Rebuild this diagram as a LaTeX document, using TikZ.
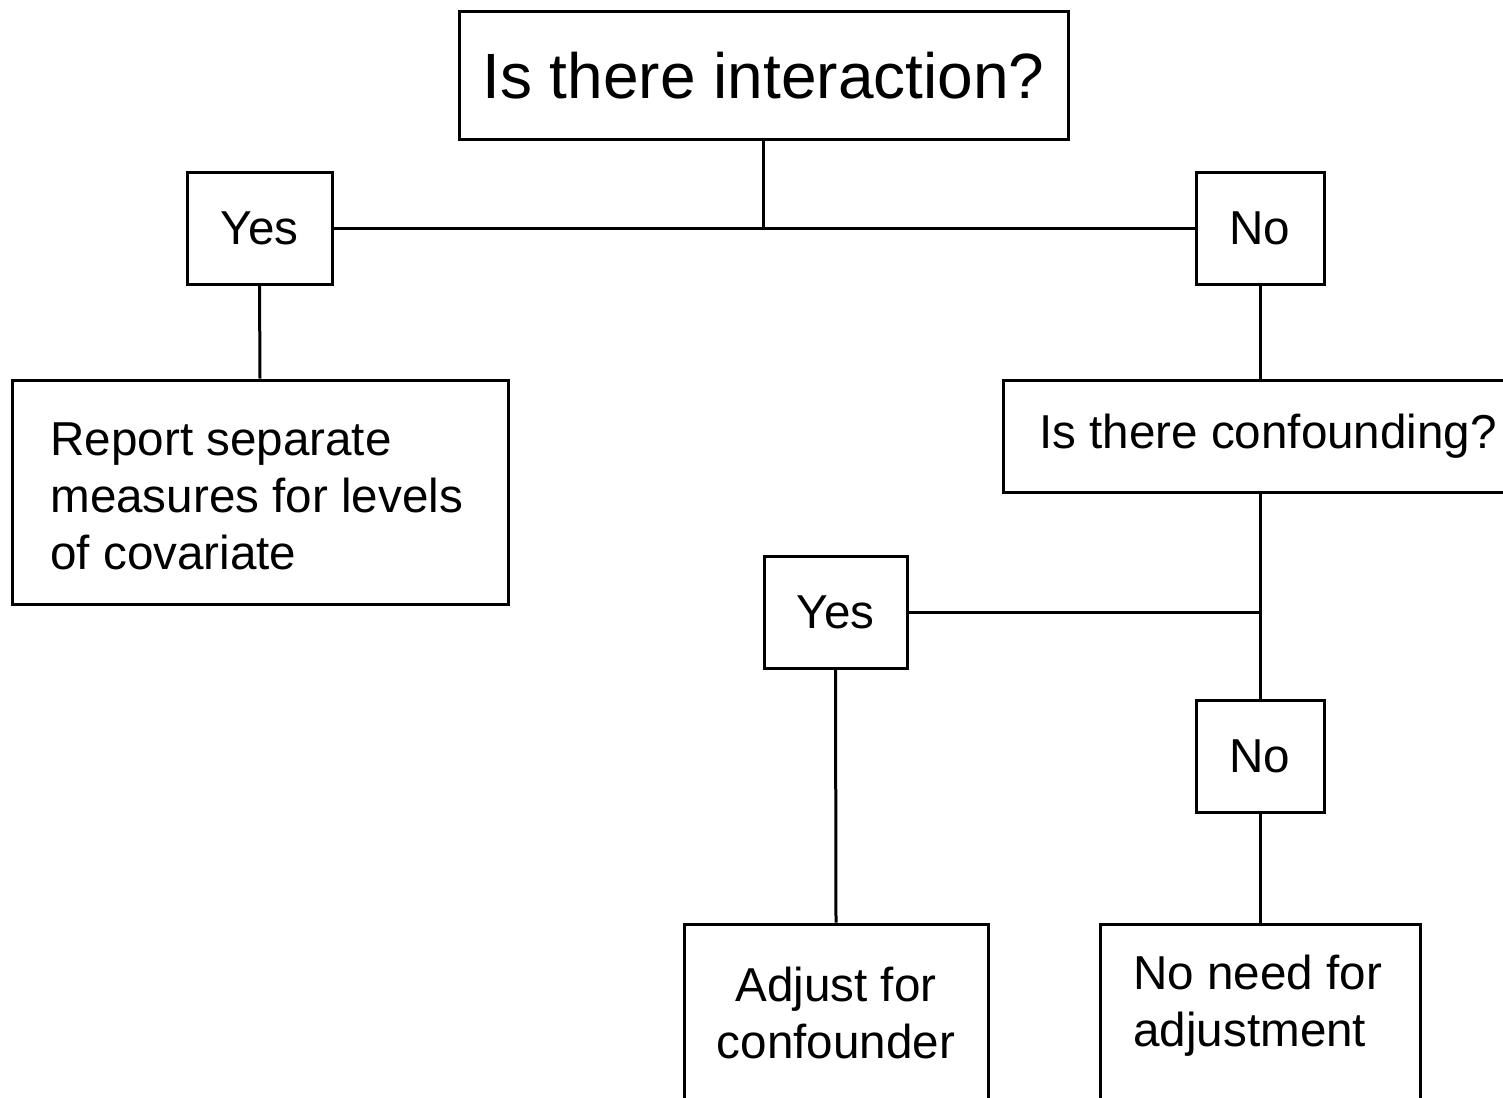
\documentclass[tikz,border=0pt]{standalone}
\usepackage{fontspec}
\setmainfont{Liberation Sans}
\begin{document}
\begin{tikzpicture}[x=0.5pt,y=-0.5pt,
  box/.style={draw, line width=1.5pt, inner sep=0pt, rectangle},
  body/.style={font=\fontsize{23.8}{28.5}\selectfont, inner sep=0pt},
  link/.style={line width=1.5pt}]
\clip (0,0) rectangle (1503,1097);
\fill[white] (0,0) rectangle (1503,1097);

% decision boxes
\node[box, minimum width=304.5pt, minimum height=63.5pt,
      font=\fontsize{32}{38}\selectfont] (q1) at (763.5,75.5) {Is there interaction?};
\node[box, body, minimum width=72.5pt, minimum height=56pt] (yes1) at (259.5,228) {Yes};
\node[box, body, minimum width=64pt, minimum height=56pt] (no1) at (1260,228) {No};
\node[box, minimum width=248pt, minimum height=112pt] (report) at (260,492) {};
\node[body, align=left, anchor=base west] (reporttxt) at (50,569)
  {Report separate\\measures for levels\\of covariate};
\node[box, body, minimum width=265pt, minimum height=56pt] (conf) at (1268,436) {Is there confounding?};
\node[box, body, minimum width=71.5pt, minimum height=56pt] (yes2) at (835.5,612) {Yes};
\node[box, body, minimum width=64pt, minimum height=56pt] (no2) at (1260,756) {No};
\node[box, minimum width=152pt, minimum height=108pt] (adjust) at (836,1032) {};
\node[body, align=center, anchor=base] (adjusttxt) at (836,1058) {Adjust for\\confounder};
\node[box, minimum width=160pt, minimum height=108pt] (noneed) at (1260,1032) {};
\node[body, align=left, anchor=base west] (noneedtxt) at (1133,1046) {No need for\\adjustment};

% connectors
\coordinate (j1) at (q1.south |- yes1.east);
\draw[link] (q1.south) -- (j1);
\draw[link] (yes1.east) -- (no1.west);
\draw[link] (yes1.south) -- (report.north);
\draw[link] (no1.south) -- (no1.south |- conf.north);
\coordinate (j2) at (no1.south |- conf.south);
\draw[link] (j2) -- (no2.north);
\draw[link] (yes2.east) -- (yes2.east -| no2.north);
\draw[link] (yes2.south) -- (adjust.north);
\draw[link] (no2.south) -- (noneed.north);
\end{tikzpicture}
\end{document}
